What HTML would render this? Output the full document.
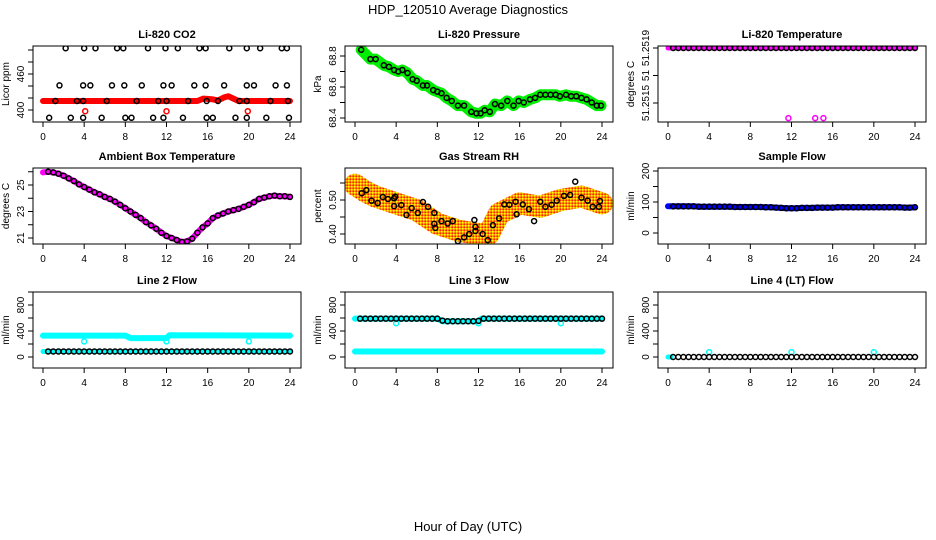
<!DOCTYPE html>
<html><head><meta charset="utf-8">
<style>
body{margin:0;background:#fff;}
svg{display:block;font-family:"Liberation Sans",Arial,sans-serif;}
</style></head>
<body>
<svg id="chart" width="936" height="540" viewBox="0 0 936 540" xmlns="http://www.w3.org/2000/svg">
<defs>
<pattern id="rhPat" width="3" height="3" patternUnits="userSpaceOnUse">
<rect width="3" height="3" fill="#ff9900"/><rect x="0" y="0" width="1.5" height="1.5" fill="#ffff00"/><rect x="1.5" y="1.5" width="1.5" height="1.5" fill="#ff2200"/>
</pattern>
</defs>
<text x="468" y="14" font-size="13" text-anchor="middle">HDP_120510  Average Diagnostics</text>
<text x="468" y="531" font-size="13" text-anchor="middle">Hour of Day (UTC)</text>
</svg>
<script>
const xTicks = [0,4,8,12,16,20,24];
const hours = [0.5,1,1.5,2,2.5,3,3.5,4,4.5,5,5.5,6,6.5,7,7.5,8,8.5,9,9.5,10,10.5,11,11.5,12,12.5,13,13.5,14,14.5,15,15.5,16,16.5,17,17.5,18,18.5,19,19.5,20,20.5,21,21.5,22,22.5,23,23.5,24];

// CO2
const co2Hours = [2.2,4.0,5.1,7.2,7.8,10.2,11.9,13.1,15.2,15.8,18.1,19.8,21.1,23.2,23.7, 1.6,3.9,4.6,6.7,7.9,9.6,11.7,12.5,14.7,15.8,17.6,19.8,20.5,22.6,23.7, 1.2,3.3,3.9,6.2,9.1,11.2,12.0,14.1,15.9,17.0,19.1,19.8,22.1,23.8, 0.6,2.7,3.9,5.7,8.0,8.6,10.7,11.7,13.6,15.9,16.5,18.7,19.8,21.7,23.9];
const co2Values = [503,503,503,503,503,503,503,503,503,503,503,503,503,503,503, 441,441,441,441,441,441,441,441,441,441,441,441,441,441,441, 415,415,415,415,415,415,415,415,415,415,415,415,415,415, 387,387,387,387,387,387,387,387,387,387,387,387,387,387,387];
const co2RawHours = [0,15,15.6,16.4,17,17.6,18,18.5,19,24];
const co2RawValues = [415,415,419,418,416,421,423,419,415,415];
const co2OutHours = [4.1,12.0,19.9];
const co2OutValues = [398,398,398];
const co2Ticks = [400,420,440,460,480,500];
const co2Labels = ["400","","","460","",""];

// Pressure
const presHours = [0.6,1.5,2,2.8,3.3,3.8,4.2,4.6,5.1,5.6,6,6.6,7,7.6,8,8.4,8.9,9.4,10,10.6,11.3,11.8,12.2,12.6,13.1,13.6,14.2,14.8,15.4,15.9,16.4,17,17.5,18,18.5,19,19.5,19.9,20.5,21,21.5,22,22.5,23,23.5,23.9];
const presValues = [68.84,68.78,68.78,68.74,68.73,68.71,68.70,68.71,68.69,68.65,68.64,68.61,68.61,68.58,68.57,68.56,68.53,68.51,68.48,68.48,68.44,68.43,68.43,68.45,68.44,68.49,68.48,68.51,68.48,68.51,68.50,68.52,68.53,68.55,68.55,68.55,68.55,68.54,68.55,68.54,68.54,68.53,68.52,68.50,68.48,68.48];
const presTicks = [68.4,68.5,68.6,68.7,68.8];
const presLabels = ["68.4","","68.6","","68.8"];

// Li-820 temperature
const ltempValues = [51.2519,51.2519,51.2519,51.2519,51.2519,51.2519,51.2519,51.2519,51.2519,51.2519,51.2519,51.2519,51.2519,51.2519,51.2519,51.2519,51.2519,51.2519,51.2519,51.2519,51.2519,51.2519,51.2519,51.2519,51.2519,51.2519,51.2519,51.2519,51.2519,51.2519,51.2519,51.2519,51.2519,51.2519,51.2519,51.2519,51.2519,51.2519,51.2519,51.2519,51.2519,51.2519,51.2519,51.2519,51.2519,51.2519,51.2519,51.2519];
const ltempOutHours = [11.7,14.3,15.1];
const ltempOutValues = [51.25139,51.25139,51.25139];
const ltempTicks = [51.2515,51.2517,51.2519];
const ltempLabels = ["51.2515","51","51.2519"];

// Ambient box temperature
const ambValues = [26.0,25.95,25.85,25.7,25.5,25.3,25.05,24.85,24.65,24.45,24.3,24.1,23.95,23.75,23.5,23.25,23.0,22.75,22.5,22.2,21.95,21.7,21.4,21.15,21.0,20.85,20.7,20.75,20.95,21.4,21.8,22.1,22.5,22.7,22.85,23.0,23.1,23.2,23.35,23.5,23.7,23.95,24.05,24.15,24.2,24.15,24.15,24.1];
const ambTicks = [21,22,23,24,25,26];
const ambLabels = ["21","","23","","25",""];

// RH
const rhHours = [0.65,1.1,1.6,2.2,2.7,3.2,3.8,3.8,3.9,4.5,5.0,5.5,6.1,6.6,7.1,7.7,7.7,7.8,8.4,9.0,9.5,10.0,10.6,11.1,11.6,11.7,11.7,12.4,12.9,13.4,14.0,14.5,15.0,15.6,15.7,16.3,16.9,17.4,18.0,18.5,19.1,19.6,20.3,20.9,21.4,22.0,22.6,23.1,23.7,23.8];
const rhValues = [0.52,0.529,0.498,0.491,0.509,0.503,0.505,0.482,0.51,0.485,0.456,0.476,0.462,0.494,0.48,0.462,0.43,0.418,0.438,0.431,0.438,0.379,0.39,0.40,0.441,0.421,0.409,0.40,0.382,0.426,0.446,0.487,0.486,0.495,0.458,0.487,0.473,0.438,0.495,0.48,0.486,0.498,0.512,0.515,0.554,0.507,0.498,0.48,0.48,0.497];
const rhBandHours = [0,1,2,4,6,8,10,12,13,14,16,18,20,22,24];
const rhBandValues = [0.545,0.525,0.51,0.49,0.47,0.43,0.41,0.40,0.40,0.46,0.49,0.48,0.50,0.51,0.49];
const rhTicks = [0.40,0.45,0.50,0.55];
const rhLabels = ["0.40","","0.50",""];

// Sample flow
const sampleValues = [86,86,86,86,86,85,85,85,85,85,85,85,84,84,84,84,84,84,83,83,82,81,80,80,80,81,81,81,82,82,82,82,83,83,83,83,83,83,83,83,83,83,83,83,83,82,82,83];
const sampleTicks = [0,50,100,150,200];
const sampleLabels = ["0","","100","","200"];

// Line flows
const flowTicks = [0,200,400,600,800,1000];
const flowLabels = ["0","","400","","800",""];
const line2Values = [85,85,85,85,85,85,85,85,85,85,85,85,85,85,85,85,85,85,85,85,85,85,85,85,85,85,85,85,85,85,85,85,85,85,85,85,85,85,85,85,85,85,85,85,85,85,85,85];
const line2CyanHours = [0,8,8.5,12,12.3,24];
const line2CyanValues = [330,330,290,290,335,330];
const line2CyanLowHours = [0,24];
const line2CyanLowValues = [85,85];
const line2OutHours = [4,12,20];
const line2OutValues = [240,240,240];
const line3Values = [590,590,590,590,590,590,590,590,590,590,590,590,590,590,590,590,560,550,550,550,550,550,550,555,590,590,590,590,590,590,590,590,590,590,590,590,590,590,590,590,590,590,590,590,590,590,590,590];
const line3CyanHours = [0,8,8.5,12,12.3,24];
const line3CyanValues = [590,590,550,550,590,590];
const line3CyanLowHours = [0,24];
const line3CyanLowValues = [85,85];
const line3OutHours = [4,12,20];
const line3OutValues = [520,520,520];
const line4Values = [0,0,0,0,0,0,0,0,0,0,0,0,0,0,0,0,0,0,0,0,0,0,0,0,0,0,0,0,0,0,0,0,0,0,0,0,0,0,0,0,0,0,0,0,0,0,0,0];
const line4CyanHours = [0,0.3];
const line4CyanValues = [0,0];
const line4OutHours = [4,12,20];
const line4OutValues = [75,75,75];

const NS = "http://www.w3.org/2000/svg";
const svg = document.getElementById('chart');
function mk(tag, attrs, parent){
  const e = document.createElementNS(NS, tag);
  for (const k in attrs) e.setAttribute(k, attrs[k]);
  (parent||svg).appendChild(e);
  return e;
}
function makePanel(key, left, top, title, v0, y0, v1, y1, ticks, labels, ylab){
  const g = mk('g', {});
  
  
  const right = left + 268, bottom = top + 76;
  const sx = h => left + 10 + h * 247 / 24;
  const sy = v => y0 + (v - v0) * (y1 - y0) / (v1 - v0);
  const clip = mk('clipPath', {id: 'clip-' + key}, g);
  mk('rect', {x: left, y: top, width: 268, height: 76}, clip);
  const plot = mk('g', {'clip-path': 'url(#clip-' + key + ')'}, g);
  
  
  const box = mk('rect', {x: left, y: top, width: 268, height: 76, fill: 'none', stroke: '#000', 'stroke-width': 1}, g);
  
  
  const t = mk('text', {x: (left + right) / 2, y: top - 8, 'font-size': 11, 'font-weight': 'bold', 'text-anchor': 'middle'}, g);
  t.textContent = title;
  
  
  // x axis
  xTicks.forEach(h => {
    const x = sx(h);
    mk('line', {x1: x, y1: bottom, x2: x, y2: bottom + 5, stroke: '#000'}, g);
    const tl = mk('text', {x: x, y: bottom + 18, 'font-size': 10, 'text-anchor': 'middle'}, g);
    tl.textContent = h;
    
    
  });
  ticks.forEach((v, i) => {
    const y = sy(v);
    mk('line', {x1: left - 5, y1: y, x2: left, y2: y, stroke: '#000'}, g);
    if (labels[i]) {
      const tl = mk('text', {x: left - 9, y: y, 'font-size': 10, 'text-anchor': 'middle', transform: 'rotate(-90 ' + (left - 9) + ' ' + y + ')'}, g);
      tl.textContent = labels[i];
      
      
    }
  });
  const yt = mk('text', {x: left - 24, y: (top + bottom) / 2, 'font-size': 10, 'text-anchor': 'middle', transform: 'rotate(-90 ' + (left - 24) + ' ' + ((top + bottom) / 2) + ')'}, g);
  yt.textContent = ylab;
  
  
  return {plot, sx, sy, key};
}
function band(p, hs, vs, color, w){
  const pts = hs.map((h, i) => p.sx(h).toFixed(1) + ',' + p.sy(vs[i]).toFixed(1)).join(' ');
  const l = mk('polyline', {points: pts, fill: 'none', stroke: color, 'stroke-width': w, 'stroke-linecap': 'round', 'stroke-linejoin': 'round'}, p.plot);
  
  
}
function pts(p, hs, vs, color, r, sw){
  hs.forEach((h, i) => {
    const c = mk('circle', {cx: p.sx(h), cy: p.sy(vs[i]), r: r, fill: 'none', stroke: color, 'stroke-width': sw}, p.plot);
    
    
  });
}

// Row 1
let p = makePanel('co2', 33, 46, 'Li-820 CO2', 400, 110, 460, 74, co2Ticks, co2Labels, 'Licor ppm');
band(p, co2RawHours, co2RawValues, '#ff0000', 6);
pts(p, co2OutHours, co2OutValues, '#ff0000', 2.5, 1.5);
pts(p, co2Hours, co2Values, '#000', 2.5, 1.5);

p = makePanel('pressure', 345, 46, 'Li-820 Pressure', 68.4, 118, 68.8, 56, presTicks, presLabels, 'kPa');
band(p, presHours, presValues, '#00ee00', 11);
pts(p, presHours, presValues, '#000', 2.5, 1.5);

p = makePanel('li820-temp', 658, 46, 'Li-820 Temperature', 51.2515, 103, 51.2519, 48, ltempTicks, ltempLabels, 'degrees C');
band(p, [0, 24], [51.2519, 51.2519], '#ff00ff', 5);
pts(p, ltempOutHours, ltempOutValues, '#ff00ff', 2.5, 1.5);
pts(p, hours, ltempValues, '#000', 2.5, 1.5);

// Row 2
p = makePanel('ambient', 33, 168, 'Ambient Box Temperature', 21, 238, 25, 185, ambTicks, ambLabels, 'degrees C');
band(p, [0].concat(hours), [25.95].concat(ambValues), '#ff00ff', 6);
pts(p, hours, ambValues, '#000', 2.5, 1.5);

p = makePanel('rh', 345, 168, 'Gas Stream RH', 0.40, 234, 0.50, 200, rhTicks, rhLabels, 'percent');
band(p, rhBandHours, rhBandValues, 'url(#rhPat)', 22);
pts(p, rhHours, rhValues, '#000', 2.5, 1.5);

p = makePanel('sample-flow', 658, 168, 'Sample Flow', 0, 233, 100, 202, sampleTicks, sampleLabels, 'ml/min');
band(p, [0].concat(hours), [86].concat(sampleValues), '#0000ff', 6);
pts(p, hours, sampleValues, '#000', 2.5, 1.5);

// Row 3
p = makePanel('line2', 33, 292, 'Line 2 Flow', 0, 357, 400, 331, flowTicks, flowLabels, 'ml/min');
band(p, line2CyanHours, line2CyanValues, '#00ffff', 6);
band(p, line2CyanLowHours, line2CyanLowValues, '#00ffff', 5);
pts(p, line2OutHours, line2OutValues, '#00ffff', 2.5, 1.5);
pts(p, hours, line2Values, '#000', 2.5, 1.5);

p = makePanel('line3', 345, 292, 'Line 3 Flow', 0, 357, 400, 331, flowTicks, flowLabels, 'ml/min');
band(p, line3CyanHours, line3CyanValues, '#00ffff', 6);
band(p, line3CyanLowHours, line3CyanLowValues, '#00ffff', 6);
pts(p, line3OutHours, line3OutValues, '#00ffff', 2.5, 1.5);
pts(p, hours, line3Values, '#000', 2.5, 1.5);

p = makePanel('line4', 658, 292, 'Line 4 (LT) Flow', 0, 357, 400, 331, flowTicks, flowLabels, 'ml/min');
band(p, line4CyanHours, line4CyanValues, '#00ffff', 5);
pts(p, line4OutHours, line4OutValues, '#00ffff', 2.5, 1.5);
pts(p, hours, line4Values, '#000', 2.5, 1.5);
</script>
</body></html>
